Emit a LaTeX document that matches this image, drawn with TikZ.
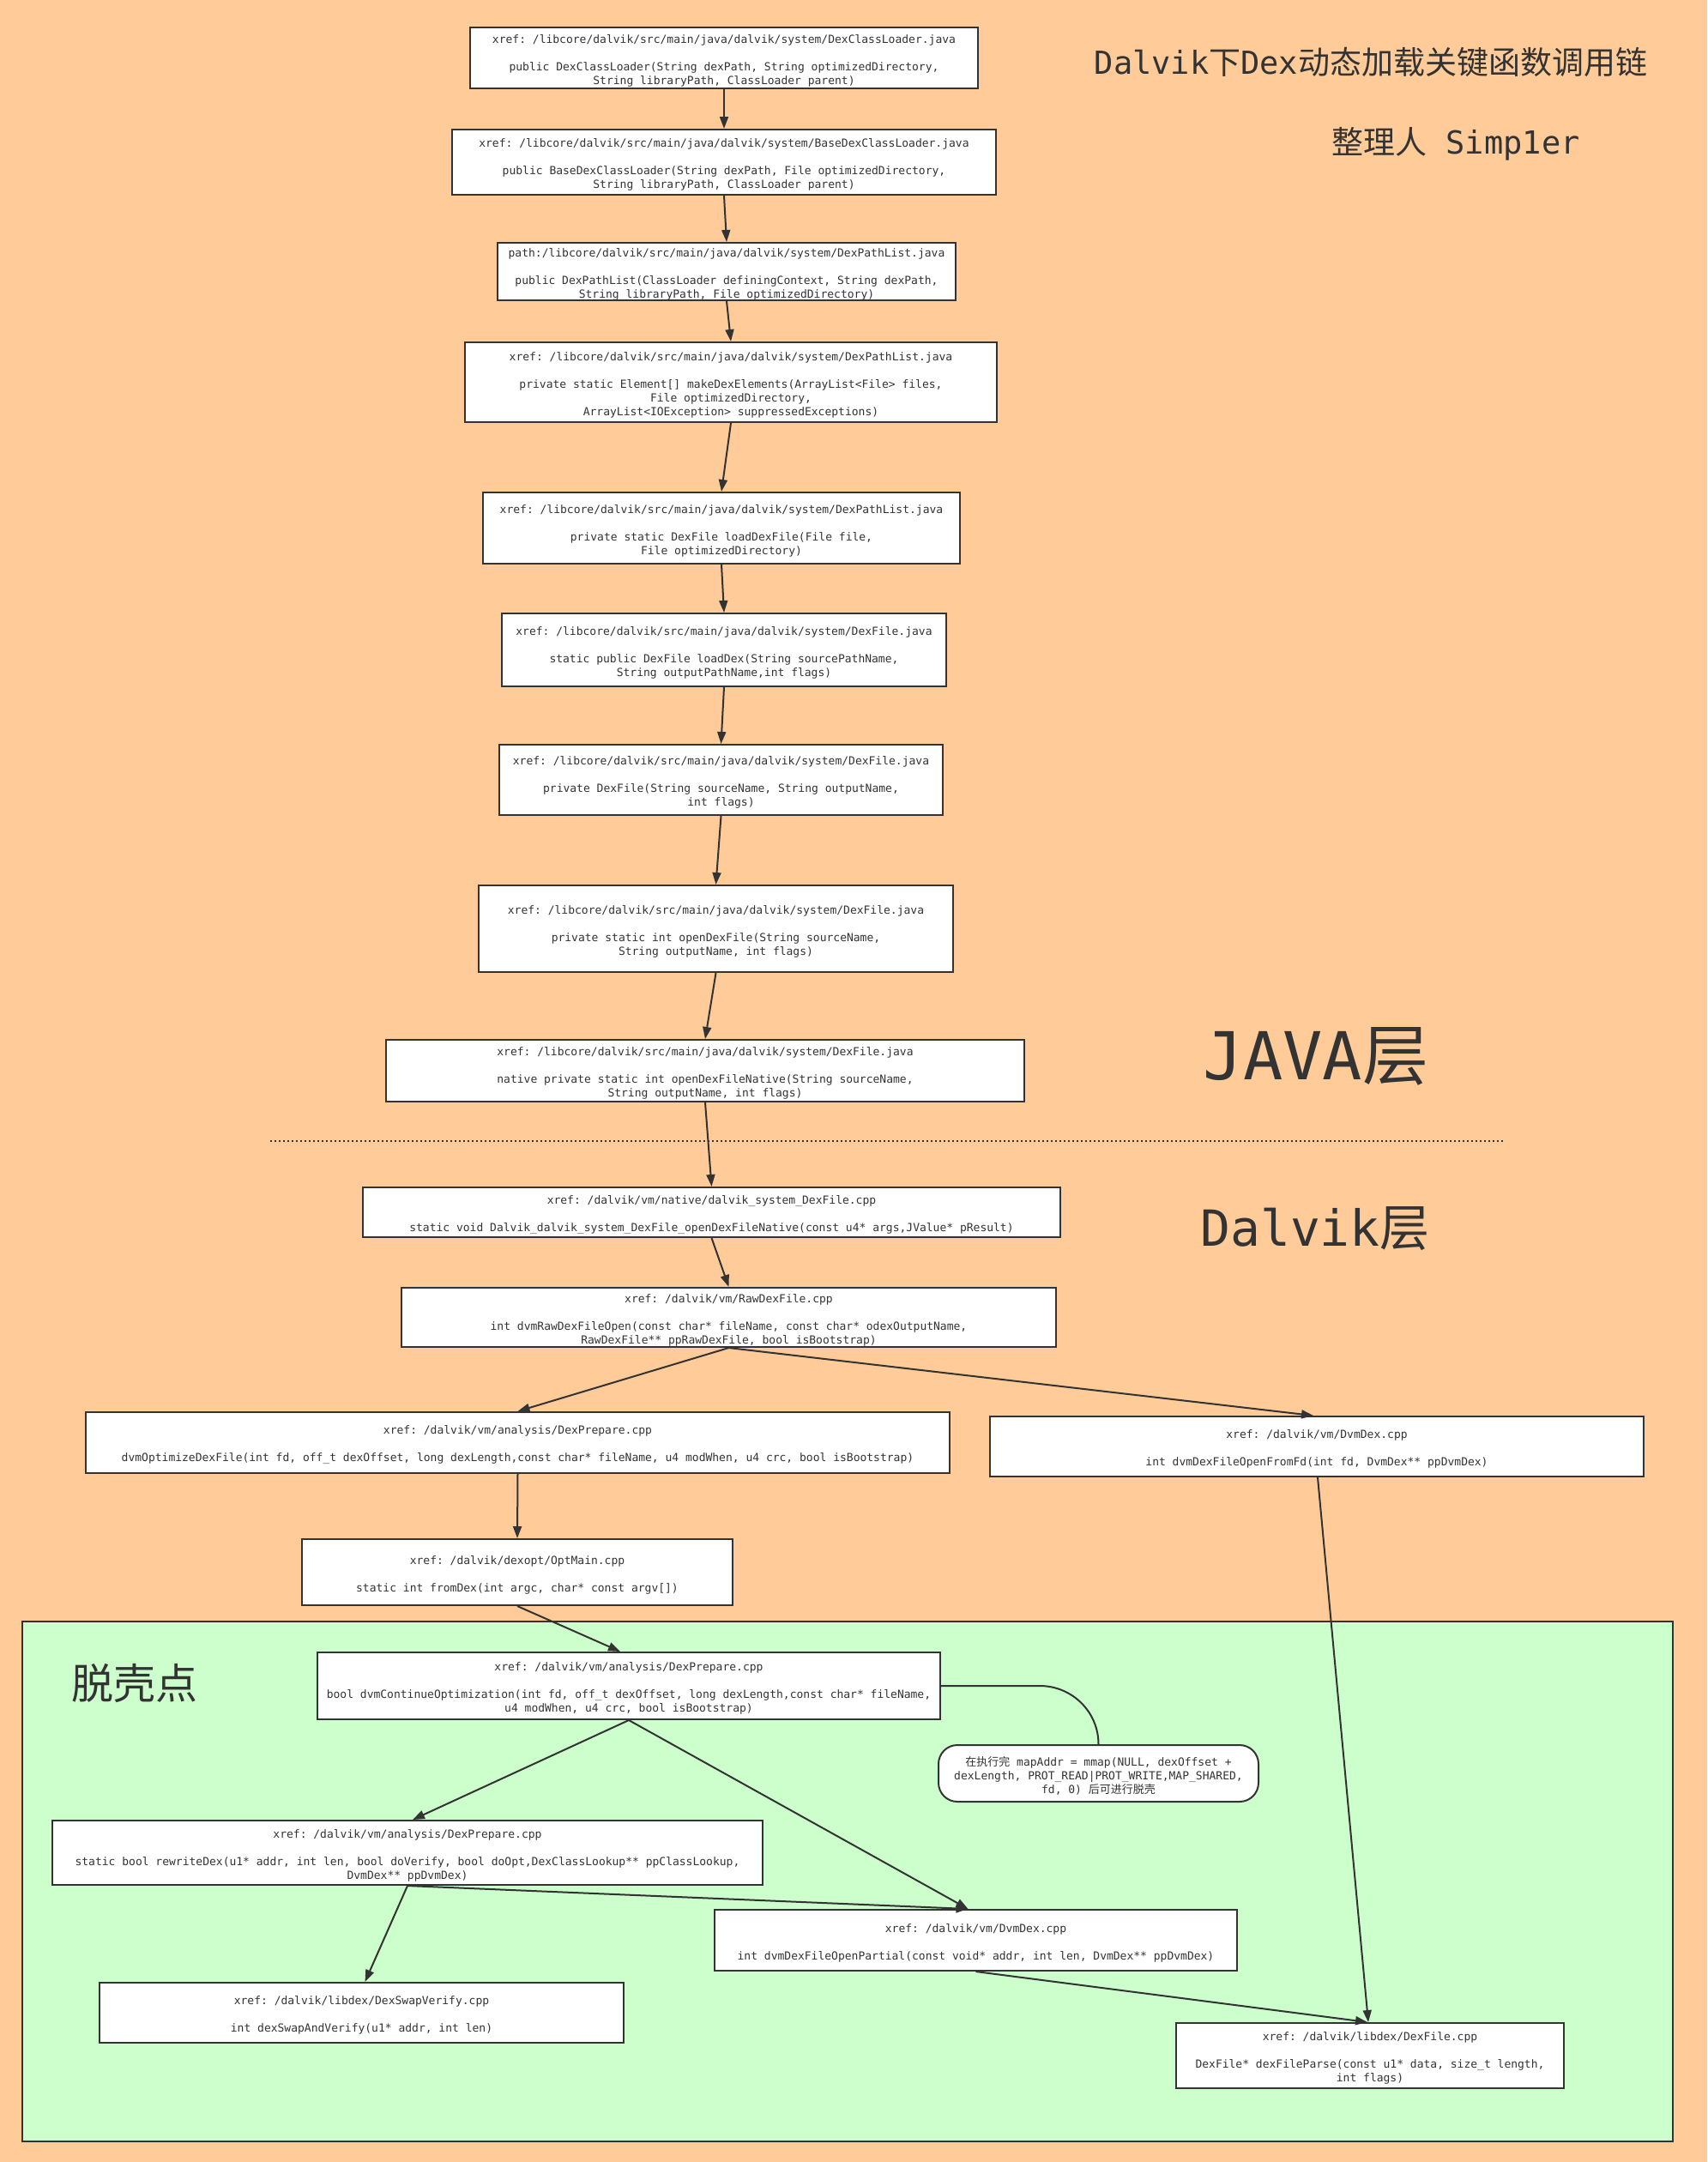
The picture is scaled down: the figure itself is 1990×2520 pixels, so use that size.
\documentclass[tikz,border=0pt]{standalone}
\usepackage{fontspec}
\setmonofont{DejaVu Sans Mono}
\newfontfamily\cjk{Noto Sans CJK SC}
\usetikzlibrary{arrows.meta,calc}
\definecolor{peach}{HTML}{FFCC99}
\definecolor{mint}{HTML}{CCFFCC}
\definecolor{ink}{HTML}{333333}
\newcommand{\topstrut}{\rule{0pt}{16pt}}
\tikzset{
  fn/.style={draw=ink, line width=2pt, fill=white, inner sep=0pt, align=center,
    text=ink, font=\fontsize{13}{16}\selectfont\ttfamily},
  link/.style={draw=ink, line width=2pt, -{Triangle[length=14pt,width=10pt]}},
  plainlink/.style={draw=ink, line width=2pt},
  bigtext/.style={anchor=base, text=ink, inner sep=0pt},
}
\begin{document}
\begin{tikzpicture}[x=1pt,y=-1pt]
\fill[peach] (0,0) rectangle (1990,2520);
\useasboundingbox (0,0) rectangle (1990,2520);

% green region
\draw[fill=mint, draw=ink, line width=2pt] (26,1890) rectangle (1950,2496);

% titles
\node[bigtext, font=\fontsize{37}{40}\selectfont\ttfamily] (title) at (1598,86) {Dalvik{\cjk 下}Dex{\cjk 动态加载关键函数调用链}};
\node[bigtext, font=\fontsize{37}{40}\selectfont\ttfamily] (author) at (1697,179) {{\cjk 整理人} Simp1er};
\node[bigtext, font=\fontsize{77}{80}\selectfont\ttfamily] (java) at (1534,1258) {JAVA{\cjk 层}};
\node[bigtext, font=\fontsize{58}{60}\selectfont\ttfamily] (dalvik) at (1533,1452) {Dalvik{\cjk 层}};
\node[bigtext, font=\fontsize{49}{50}\selectfont\cjk] (shell) at (157,1980) {脱壳点};

% dotted separator
\coordinate (sepL) at (315,1330);
\coordinate (sepR) at (1752,1330);
\draw[ink, line width=2pt, dash pattern=on 2pt off 3pt] (sepL) -- (sepR);

% boxes
\node[fn, minimum width=592pt, minimum height=71pt] (b1) at (844,67.5)
 {\topstrut xref: /libcore/dalvik/src/main/java/dalvik/system/DexClassLoader.java\\[16pt]public DexClassLoader(String dexPath, String optimizedDirectory,\\String libraryPath, ClassLoader parent)};
\node[fn, minimum width=634pt, minimum height=76pt] (b2) at (844,189)
 {\topstrut xref: /libcore/dalvik/src/main/java/dalvik/system/BaseDexClassLoader.java\\[16pt]public BaseDexClassLoader(String dexPath, File optimizedDirectory,\\String libraryPath, ClassLoader parent)};
\node[fn, minimum width=534pt, minimum height=67pt] (b3) at (847,316.5)
 {\topstrut path:/libcore/dalvik/src/main/java/dalvik/system/DexPathList.java\\[16pt]public DexPathList(ClassLoader definingContext, String dexPath,\\String libraryPath, File optimizedDirectory)};
\node[fn, minimum width=620pt, minimum height=93pt] (b4) at (852,445.5)
 {\topstrut xref: /libcore/dalvik/src/main/java/dalvik/system/DexPathList.java\\[16pt]private static Element[] makeDexElements(ArrayList<File> files,\\File optimizedDirectory,\\ArrayList<IOException> suppressedExceptions)};
\node[fn, minimum width=556pt, minimum height=83pt] (b5) at (841,615.5)
 {\topstrut xref: /libcore/dalvik/src/main/java/dalvik/system/DexPathList.java\\[16pt]private static DexFile loadDexFile(File file,\\File optimizedDirectory)};
\node[fn, minimum width=518pt, minimum height=85pt] (b6) at (844,757.5)
 {\topstrut xref: /libcore/dalvik/src/main/java/dalvik/system/DexFile.java\\[16pt]static public DexFile loadDex(String sourcePathName,\\String outputPathName,int flags)};
\node[fn, minimum width=517pt, minimum height=82pt] (b7) at (840.5,909)
 {\topstrut xref: /libcore/dalvik/src/main/java/dalvik/system/DexFile.java\\[16pt]private DexFile(String sourceName, String outputName,\\int flags)};
\node[fn, minimum width=553pt, minimum height=101pt] (b8) at (834.5,1082.5)
 {\topstrut xref: /libcore/dalvik/src/main/java/dalvik/system/DexFile.java\\[16pt]private static int openDexFile(String sourceName,\\String outputName, int flags)};
\node[fn, minimum width=744pt, minimum height=72pt] (b9) at (822,1248)
 {\topstrut xref: /libcore/dalvik/src/main/java/dalvik/system/DexFile.java\\[16pt]native private static int openDexFileNative(String sourceName,\\String outputName, int flags)};
\node[fn, minimum width=813pt, minimum height=58pt] (b10) at (829.5,1413)
 {\topstrut xref: /dalvik/vm/native/dalvik\_system\_DexFile.cpp\\[16pt]static void Dalvik\_dalvik\_system\_DexFile\_openDexFileNative(const u4* args,JValue* pResult)};
\node[fn, minimum width=763pt, minimum height=69pt] (b11) at (849.5,1535.5)
 {\topstrut xref: /dalvik/vm/RawDexFile.cpp\\[16pt]int dvmRawDexFileOpen(const char* fileName, const char* odexOutputName,\\RawDexFile** ppRawDexFile, bool isBootstrap)};
\node[fn, minimum width=1007pt, minimum height=71pt] (b12) at (603.5,1681.5)
 {\topstrut xref: /dalvik/vm/analysis/DexPrepare.cpp\\[16pt]dvmOptimizeDexFile(int fd, off\_t dexOffset, long dexLength,const char* fileName, u4 modWhen, u4 crc, bool isBootstrap)};
\node[fn, minimum width=762pt, minimum height=70pt] (b13) at (1535,1686)
 {\topstrut xref: /dalvik/vm/DvmDex.cpp\\[16pt]int dvmDexFileOpenFromFd(int fd, DvmDex** ppDvmDex)};
\node[fn, minimum width=502pt, minimum height=77pt] (b14) at (603,1832.5)
 {\topstrut xref: /dalvik/dexopt/OptMain.cpp\\[16pt]static int fromDex(int argc, char* const argv[])};
\node[fn, minimum width=726pt, minimum height=78pt] (b15) at (733,1965)
 {\topstrut xref: /dalvik/vm/analysis/DexPrepare.cpp\\[16pt]bool dvmContinueOptimization(int fd, off\_t dexOffset, long dexLength,const char* fileName,\\u4 modWhen, u4 crc, bool isBootstrap)};
\node[fn, rounded corners=22pt, minimum width=373pt, minimum height=66pt] (note) at (1280.5,2067)
 {\topstrut{\cjk 在执行完} mapAddr = mmap(NULL, dexOffset +\\dexLength, PROT\_READ|PROT\_WRITE,MAP\_SHARED,\\fd, 0) {\cjk 后可进行脱壳}};
\node[fn, minimum width=828pt, minimum height=75pt] (b16) at (475,2159.5)
 {\topstrut xref: /dalvik/vm/analysis/DexPrepare.cpp\\[16pt]static bool rewriteDex(u1* addr, int len, bool doVerify, bool doOpt,DexClassLookup** ppClassLookup,\\DvmDex** ppDvmDex)};
\node[fn, minimum width=609pt, minimum height=71pt] (b17) at (1137.5,2261.5)
 {\topstrut xref: /dalvik/vm/DvmDex.cpp\\[16pt]int dvmDexFileOpenPartial(const void* addr, int len, DvmDex** ppDvmDex)};
\node[fn, minimum width=611pt, minimum height=70pt] (b18) at (421.5,2346)
 {\topstrut xref: /dalvik/libdex/DexSwapVerify.cpp\\[16pt]int dexSwapAndVerify(u1* addr, int len)};
\node[fn, minimum width=452pt, minimum height=76pt] (b19) at (1597,2396)
 {\topstrut xref: /dalvik/libdex/DexFile.cpp\\[16pt]DexFile* dexFileParse(const u1* data, size\_t length,\\int flags)};

% connectors
\draw[link] (b1.south) -- (b2.north);
\draw[link] (b2.south) -- (b3.north);
\draw[link] (b3.south) -- (b4.north);
\draw[link] (b4.south) -- (b5.north);
\draw[link] (b5.south) -- (b6.north);
\draw[link] (b6.south) -- (b7.north);
\draw[link] (b7.south) -- (b8.north);
\draw[link] (b8.south) -- (b9.north);
\draw[link] (b9.south) -- (b10.north);
\draw[link] (b10.south) -- (b11.north);
\draw[link] (b11.south) -- (b12.north);
\draw[link] (b11.south) -- ([xshift=-4pt]b13.north);
\draw[link] (b12.south) -- (b14.north);
\draw[link] ([xshift=1pt]b13.south) -- ([xshift=-2pt]b19.north);
\draw[link] (b14.south) -- ([xshift=-10pt]b15.north);
\draw[link] (b15.south) -- ([xshift=6pt]b16.north);
\draw[link] (b15.south) -- ([xshift=-9pt]b17.north);
\draw[link] (b16.south) -- ([xshift=4pt]b18.north);
\draw[link] (b16.south) -- ([xshift=-9pt]b17.north);
\draw[link] (b17.south) -- ([xshift=-3pt]b19.north);
\draw[plainlink] (b15.east) -- ($(b15.east)+(115,0)$) to[out=0,in=90] (note.north);
\end{tikzpicture}
\end{document}
